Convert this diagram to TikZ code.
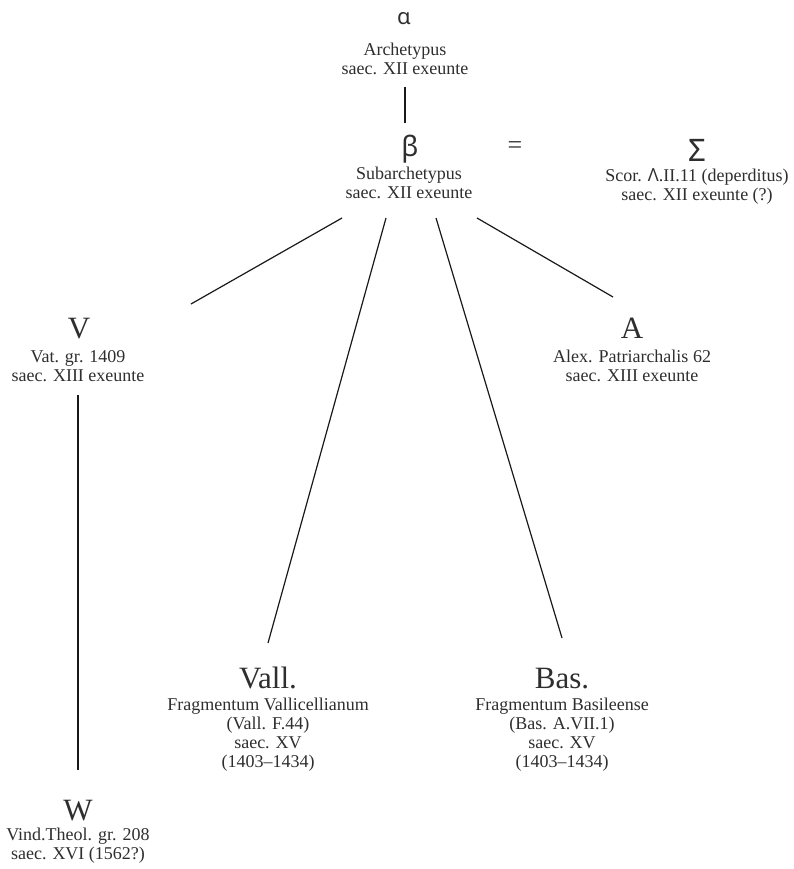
\documentclass[tikz,border=0pt]{standalone}
\usepackage{fontspec}
\setmainfont{Liberation Serif}
\newfontfamily\greekfont{Noto Sans}
\definecolor{txt}{HTML}{2E2E2E}
\begin{document}
\begin{tikzpicture}[x=1pt,y=-1pt,
  sig/.style={font=\fontsize{31}{31}\selectfont, inner sep=0pt, anchor=base, text=txt},
  desc/.style={font=\fontsize{18}{19}\selectfont, align=center, anchor=north, inner sep=0pt, text=txt},
  grk/.style={inner sep=0pt, anchor=base, text=txt},
  edge/.style={line width=1.2pt, draw=black!90}]
\useasboundingbox (0,0) rectangle (794,869);

% alpha
\node[grk, font=\greekfont\fontsize{22}{22}\selectfont] (alpha) at (404,25) {α};
\node[desc] (alphaD) at (405,43) {Archetypus\\saec. XII exeunte};

% beta
\node[grk, font=\greekfont\fontsize{28}{28}\selectfont] (beta) at (410,157) {β};
\node[desc] (betaD) at (409,167) {Subarchetypus\\saec. XII exeunte};

% equals
\node[grk, anchor=center, font=\fontsize{26}{26}\selectfont] (eq) at (515,148) {=};

% Sigma
\node[grk, font=\greekfont\fontsize{31}{31}\selectfont] (Sigma) at (697,161) {Σ};
\node[desc] (SigmaD) at (697,168) {Scor. {\greekfont Λ}.II.11 (deperditus)\\saec. XII exeunte (?)};

% V
\node[sig] (V) at (79,338) {V};
\node[desc] (VD) at (78,350) {Vat. gr. 1409\\saec. XIII exeunte};

% A
\node[sig] (A) at (632,338) {A};
\node[desc] (AD) at (632,350) {Alex. Patriarchalis 62\\saec. XIII exeunte};

% Vall.
\node[sig] (Vall) at (268,688) {Vall.};
\node[desc] (VallD) at (268,698) {Fragmentum Vallicellianum\\(Vall. F.44)\\saec. XV\\(1403--1434)};

% Bas.
\node[sig] (Bas) at (562,688) {Bas.};
\node[desc] (BasD) at (562,698) {Fragmentum Basileense\\(Bas. A.VII.1)\\saec. XV\\(1403--1434)};

% W
\node[sig] (W) at (78,820) {W};
\node[desc] (WD) at (78,828) {Vind.Theol. gr. 208\\saec. XVI (1562?)};

% connector end points
\coordinate (aB) at (405,87);
\coordinate (bT) at (405,123);
\coordinate (bV) at (342,218);
\coordinate (bVall) at (386,218);
\coordinate (bBas) at (436,218);
\coordinate (bA) at (477,218);
\coordinate (Vt) at (191,304);
\coordinate (Vallt) at (268,643);
\coordinate (Bast) at (562,638);
\coordinate (At) at (613,297);
\coordinate (Vb) at (78,395);
\coordinate (Wt) at (78,770);

\draw[edge] (aB) -- (bT);
\draw[edge] (bV) -- (Vt);
\draw[edge] (bVall) -- (Vallt);
\draw[edge] (bBas) -- (Bast);
\draw[edge] (bA) -- (At);
\draw[edge] (Vb) -- (Wt);
\end{tikzpicture}
\end{document}
